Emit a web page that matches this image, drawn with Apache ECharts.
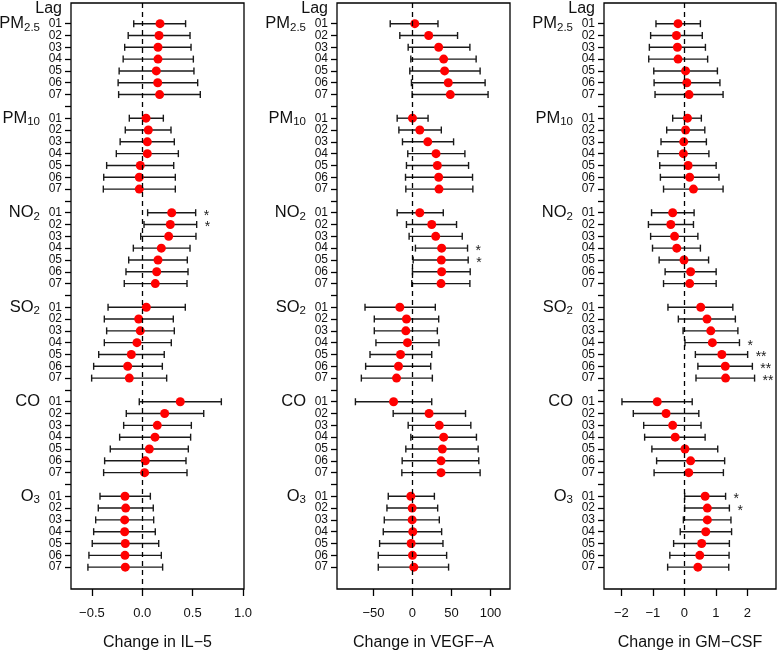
<!DOCTYPE html>
<html><head><meta charset="utf-8">
<script src="https://cdn.jsdelivr.net/npm/echarts@6/dist/echarts.min.js"></script>
<style>html,body{margin:0;padding:0;background:#fff}#c{width:778px;height:653px}</style>
</head><body><div id="c"></div>
<script>
// ---- categories ----
const pollutants = [['PM','2.5'],['PM','10'],['NO','2'],['SO','2'],['CO',''],['O','3']];
const lags = ['01','02','03','04','05','06','07'];
const outcomes = ['IL\u22125','VEGF\u2212A','GM\u2212CSF'];

// ---- IL-5 ----
const il5Est = [
  [0.176,0.166,0.156,0.156,0.139,0.153,0.172],
  [0.037,0.06,0.05,0.05,-0.02,-0.03,-0.03],
  [0.292,0.278,0.262,0.189,0.156,0.143,0.129],
  [0.04,-0.036,-0.02,-0.053,-0.109,-0.145,-0.129],
  [0.377,0.222,0.149,0.126,0.07,0.03,0.023],
  [-0.172,-0.165,-0.175,-0.175,-0.169,-0.172,-0.169]];
const il5Lo = [
  [-0.085,-0.14,-0.175,-0.19,-0.23,-0.24,-0.235],
  [-0.129,-0.169,-0.22,-0.258,-0.354,-0.383,-0.387],
  [0.053,0.017,-0.016,-0.089,-0.135,-0.162,-0.179],
  [-0.34,-0.377,-0.354,-0.377,-0.433,-0.483,-0.503],
  [-0.03,-0.159,-0.185,-0.225,-0.318,-0.374,-0.384],
  [-0.42,-0.437,-0.463,-0.483,-0.497,-0.53,-0.54]];
const il5Hi = [
  [0.43,0.474,0.484,0.507,0.513,0.55,0.576],
  [0.209,0.285,0.318,0.358,0.312,0.328,0.328],
  [0.53,0.54,0.533,0.474,0.447,0.454,0.444],
  [0.427,0.308,0.318,0.288,0.218,0.199,0.242],
  [0.785,0.61,0.487,0.48,0.457,0.434,0.444],
  [0.08,0.109,0.113,0.129,0.163,0.189,0.202]];
const il5Stars = [
  ['','','','','','',''],['','','','','','',''],
  ['*','*','','','','',''],['','','','','','',''],
  ['','','','','','',''],['','','','','','','']];

// ---- VEGF-A ----
const vegfEst = [
  [3,20.8,33.6,40,41.2,45.9,48.5],
  [0,9.4,19.6,30.2,31.9,33.6,34],
  [9.4,24.7,29.8,37.4,37,37.4,36.6],
  [-16.2,-7.7,-8.5,-6.4,-15.3,-17.9,-20.4],
  [-24.2,21.3,34.4,40,38.3,36.6,36.6],
  [-2.1,-0.4,-0.4,0.4,-1.7,0,1.7]];
const vegfLo = [
  [-28.5,-16.2,-5.5,-2.1,-3.4,-1.3,-0.4],
  [-19.6,-17.4,-12.8,-6,-7.7,-8.9,-8.5],
  [-19.6,-7.7,-4.3,3.8,0.9,0,-0.9],
  [-60.8,-48.9,-48.9,-46.8,-54.4,-60,-65.5],
  [-73.1,-24.7,-5.5,-2.1,-8.5,-13.2,-13.6],
  [-31,-32.7,-36.1,-37.4,-42.1,-43.8,-43.8]];
const vegfHi = [
  [32.7,57.8,73.6,81.6,86.7,93.1,96.9],
  [20,37,52.7,67.2,71.9,77,77.4],
  [39.5,56.5,63.8,70.6,71.4,74,73.6],
  [29.3,33.6,31.9,34,24.7,23.4,25.5],
  [24.7,68,74.8,82,84.2,85,86.7],
  [28.1,32.3,34.4,37.4,39.1,43.8,46.3]];
const vegfStars = [
  ['','','','','','',''],['','','','','','',''],
  ['','','','*','*','',''],['','','','','','',''],
  ['','','','','','',''],['','','','','','','']];

// ---- GM-CSF ----
const gmEst = [
  [-0.2,-0.25,-0.22,-0.2,0.04,0.08,0.15],
  [0.1,0.04,-0.02,-0.03,0.12,0.17,0.29],
  [-0.37,-0.43,-0.31,-0.24,-0.01,0.2,0.17],
  [0.52,0.72,0.84,0.89,1.19,1.3,1.31],
  [-0.86,-0.58,-0.37,-0.29,0.02,0.2,0.14],
  [0.66,0.73,0.73,0.68,0.55,0.49,0.43]];
const gmLo = [
  [-0.9,-1.07,-1.11,-1.13,-0.97,-0.96,-0.93],
  [-0.37,-0.56,-0.74,-0.84,-0.78,-0.76,-0.66],
  [-1.04,-1.14,-1.07,-1.01,-0.8,-0.61,-0.66],
  [-0.52,-0.19,-0.04,0.02,0.35,0.43,0.37],
  [-1.98,-1.62,-1.29,-1.26,-1.03,-0.88,-0.96],
  [0.01,0.01,-0.03,-0.13,-0.34,-0.46,-0.53]];
const gmHi = [
  [0.51,0.57,0.67,0.74,1.05,1.13,1.23],
  [0.54,0.65,0.7,0.78,1.01,1.1,1.23],
  [0.31,0.29,0.43,0.51,0.77,1.01,1.01],
  [1.54,1.62,1.7,1.75,2.01,2.16,2.23],
  [0.25,0.46,0.53,0.66,1.06,1.28,1.24],
  [1.31,1.43,1.48,1.5,1.43,1.42,1.41]];
const gmStars = [
  ['','','','','','',''],['','','','','','',''],
  ['','','','','','',''],['','','','*','**','**','**'],
  ['','','','','','',''],['*','*','','','','','']];

// ---- x-axis ticks ----
const il5Ticks = [-0.5,0,0.5,1.0];
const il5TickLabels = ['\u22120.5','0.0','0.5','1.0'];
const vegfTicks = [-50,0,50,100];
const vegfTickLabels = ['\u221250','0','50','100'];
const gmTicks = [-2,-1,0,1,2];
const gmTickLabels = ['\u22122','\u22121','0','1','2'];

// ---- build ----
const panels = [
  {est:il5Est, lo:il5Lo, hi:il5Hi, stars:il5Stars, ticks:il5Ticks, labels:il5TickLabels, min:-0.708, max:1.01, left:71, width:173},
  {est:vegfEst, lo:vegfLo, hi:vegfHi, stars:vegfStars, ticks:vegfTicks, labels:vegfTickLabels, min:-96.7, max:125, left:337, width:173},
  {est:gmEst, lo:gmLo, hi:gmHi, stars:gmStars, ticks:gmTicks, labels:gmTickLabels, min:-2.55, max:2.91, left:604, width:172}
];
const GROUP = lags.length + 1;
const nRows = pollutants.length * GROUP - 1;
const rowTicks = []; for (let r = 0; r < nRows; r++) rowTicks.push(r);
const dataRows = []; pollutants.forEach((p,i)=>lags.forEach((l,j)=>dataRows.push(i*GROUP+j)));
const groupRows = pollutants.map((p,i)=>i*GROUP);
const LAGPOS = -1.3;
const YMIN = -1.75, YMAX = nRows + 0.85;
const FONT = '"Liberation Sans", Arial, Helvetica, sans-serif';
const lineCol = '#000';

const grid = [], xAxis = [], yAxis = [], series = [];
panels.forEach((P, k) => {
  grid.push({left:P.left, width:P.width, top:3, height:586, show:true, borderColor:'#000', borderWidth:1.3,
    backgroundColor:'transparent', containLabel:false, outerBoundsMode:'none'});
  xAxis.push({
    gridIndex:k, type:'value', min:P.min, max:P.max, position:'bottom',
    axisLine:{show:false, onZero:false}, splitLine:{show:false},
    axisTick:{show:true, customValues:P.ticks, length:7, lineStyle:{color:lineCol, width:1.3}},
    axisLabel:{customValues:P.ticks, formatter:v=>P.labels[P.ticks.indexOf(v)], margin:18, fontSize:13, color:'#111', fontFamily:FONT,
      showMinLabel:true, showMaxLabel:true, hideOverlap:false},
    name:'Change in ' + outcomes[k], nameLocation:'middle', nameGap:46,
    nameTextStyle:{fontSize:16, color:'#111', fontFamily:FONT}
  });
  yAxis.push({
    gridIndex:k, type:'value', inverse:true, min:YMIN, max:YMAX, position:'left', offset:0,
    axisLine:{show:false, onZero:false}, splitLine:{show:false},
    axisTick:{show:true, customValues:rowTicks, length:6, lineStyle:{color:lineCol, width:1.3}},
    axisLabel:{customValues:[LAGPOS].concat(dataRows), margin:9, fontSize:12, color:'#111', fontFamily:FONT,
      showMinLabel:true, showMaxLabel:true, hideOverlap:false,
      formatter:v=> v < 0 ? '{lag|Lag}' : lags[v % GROUP],
      rich:{lag:{fontSize:16, color:'#111', fontFamily:FONT}}}
  });
  yAxis.push({
    gridIndex:k, type:'value', inverse:true, min:YMIN, max:YMAX, position:'left', offset:0,
    axisLine:{show:false, onZero:false}, splitLine:{show:false}, axisTick:{show:false},
    axisLabel:{customValues:groupRows, margin:31, color:'#111', fontFamily:FONT, hideOverlap:false,
      formatter:v=>{const p = pollutants[Math.round(v/GROUP)]; return '{p|'+p[0]+'}' + (p[1] ? '{s|'+p[1]+'}' : '');},
      rich:{p:{fontSize:16.5, lineHeight:20, color:'#111', fontFamily:FONT},
            s:{fontSize:11.5, lineHeight:11, verticalAlign:'bottom', color:'#111', fontFamily:FONT}}}
  });
  const barData = [], dotData = [], starList = [];
  pollutants.forEach((p,i)=>lags.forEach((l,j)=>{
    const row = i*GROUP + j;
    barData.push([P.lo[i][j], P.hi[i][j], row]);
    dotData.push([P.est[i][j], row]);
    starList.push(P.stars[i][j]);
  }));
  series.push({
    type:'custom', xAxisIndex:k, yAxisIndex:2*k, clip:false, z:3,
    encode:{x:[0,1], y:2}, data:barData,
    renderItem:(params, api)=>{
      const a = api.coord([api.value(0), api.value(2)]);
      const b = api.coord([api.value(1), api.value(2)]);
      const st = {stroke:'#1a1a1a', lineWidth:1.4};
      const ch = [
        {type:'line', shape:{x1:a[0],y1:a[1],x2:b[0],y2:b[1]}, style:st},
        {type:'line', shape:{x1:a[0],y1:a[1]-3.5,x2:a[0],y2:a[1]+3.5}, style:st},
        {type:'line', shape:{x1:b[0],y1:b[1]-3.5,x2:b[0],y2:b[1]+3.5}, style:st}
      ];
      const s = starList[params.dataIndex];
      if (s) ch.push({type:'text', x:b[0]+8, y:b[1]+3, style:{text:s, fill:'#222', fontSize:14, fontFamily:FONT, align:'left', verticalAlign:'middle'}});
      return {type:'group', children:ch};
    }
  });
  series.push({
    type:'scatter', xAxisIndex:k, yAxisIndex:2*k, data:dotData, symbol:'circle', symbolSize:9, z:4,
    itemStyle:{color:'#ff0000', opacity:1}, silent:true,
    markLine:{silent:true, symbol:['none','none'], label:{show:false}, animation:false,
      lineStyle:{color:'#000', width:1.3, type:[5,4]}, data:[{xAxis:0}]}
  });
});

const chart = echarts.init(document.getElementById('c'), null, {renderer:'canvas'});
chart.setOption({animation:false, textStyle:{fontFamily:FONT}, grid, xAxis, yAxis, series});
</script>
</body></html>
